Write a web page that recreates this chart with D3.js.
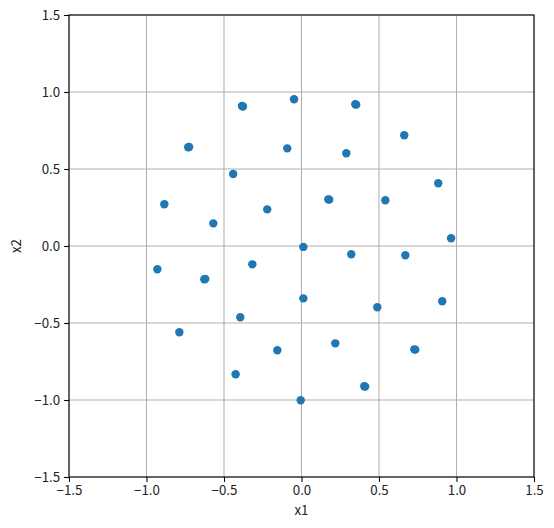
<!DOCTYPE html>
<html>
<head>
<meta charset="utf-8">
<script src="https://cdn.jsdelivr.net/npm/d3@7/dist/d3.min.js"></script>
<style>
html,body{margin:0;padding:0;background:#fff;}
text{font-family:"Noto Sans CJK JP","DejaVu Sans",sans-serif;}
</style>
</head>
<body>
<svg id="chart" width="554" height="528"></svg>
<script>
const x1Values = [-0.384,-0.048,0.347,-0.731,-0.092,0.289,0.663,-0.441,-0.885,-0.569,-0.221,0.173,0.012,0.321,-0.317,-0.627,-0.930,0.012,-0.395,-0.788,0.489,0.908,0.541,0.882,0.965,0.670,0.218,-0.156,-0.425,-0.005,0.405,0.728,
                  -0.378,0.353,-0.621,0.734,0.179,0.411,-0.725];
const x2Values = [0.909,0.953,0.920,0.641,0.634,0.602,0.719,0.468,0.271,0.147,0.238,0.303,-0.006,-0.054,-0.119,-0.216,-0.151,-0.340,-0.463,-0.560,-0.398,-0.359,0.297,0.407,0.050,-0.060,-0.632,-0.677,-0.833,-1.002,-0.911,-0.671,
                  0.906,0.918,-0.214,-0.673,0.301,-0.913,0.643];
const tickValues = [-1.5,-1.0,-0.5,0.0,0.5,1.0,1.5];
const tickLabels = ["\u22121.5","\u22121.0","\u22120.5","0.0","0.5","1.0","1.5"];
const xLabel = "x1", yLabel = "x2";

const W = 554, H = 528;
const m = {left:69, right:20, top:15, bottom:51};
const svg = d3.select("#chart");
const x = d3.scaleLinear().domain([-1.5,1.5]).range([m.left, W - m.right]);
const y = d3.scaleLinear().domain([-1.5,1.5]).range([H - m.bottom, m.top]);
const fmt = d => tickLabels[tickValues.indexOf(d)];

// grid
const g = svg.append("g");
g.selectAll("line.gx").data(tickValues).join("line")
  .attr("x1", d => x(d)).attr("x2", d => x(d))
  .attr("y1", m.top).attr("y2", H - m.bottom)
  .attr("stroke", "#b0b0b0").attr("stroke-width", 1.07);
g.selectAll("line.gy").data(tickValues).join("line")
  .attr("y1", d => y(d)).attr("y2", d => y(d))
  .attr("x1", m.left).attr("x2", W - m.right)
  .attr("stroke", "#b0b0b0").attr("stroke-width", 1.07);

// points
const pts = x1Values.map((v,i)=>({a:v,b:x2Values[i]}));
svg.append("g").selectAll("circle").data(pts).join("circle")
  .attr("cx", d => x(d.a)).attr("cy", d => y(d.b))
  .attr("r", 4.2).attr("fill", "#1f77b4");

// axes
const xAxis = d3.axisBottom(x).tickValues(tickValues).tickFormat(fmt).tickSize(4.9).tickPadding(4);
const yAxis = d3.axisLeft(y).tickValues(tickValues).tickFormat(fmt).tickSize(4.9).tickPadding(4);
const gx = svg.append("g").attr("transform", `translate(0,${H - m.bottom})`).call(xAxis);
const gy = svg.append("g").attr("transform", `translate(${m.left},0)`).call(yAxis);
[gx, gy].forEach(a => {
  a.select(".domain").remove();
  a.selectAll(".tick line").attr("stroke", "#000").attr("stroke-width", 1.07);
  a.selectAll(".tick text").attr("font-size", 13.3).attr("fill", "#222")
   .style("font-family", '"Noto Sans CJK JP","DejaVu Sans",sans-serif');
});

// frame
svg.append("rect").attr("x", m.left).attr("y", m.top)
  .attr("width", W - m.left - m.right).attr("height", H - m.top - m.bottom)
  .attr("fill", "none").attr("stroke", "#000").attr("stroke-width", 1.07);

// labels
svg.append("text").attr("x", (m.left + W - m.right)/2).attr("y", 515)
  .attr("text-anchor", "middle").attr("font-size", 13.3).attr("fill", "#222").text(xLabel);
svg.append("text").attr("transform", `translate(21,${(m.top + H - m.bottom)/2}) rotate(-90)`)
  .attr("text-anchor", "middle").attr("font-size", 13.3).attr("fill", "#222").text(yLabel);
</script>
</body>
</html>
